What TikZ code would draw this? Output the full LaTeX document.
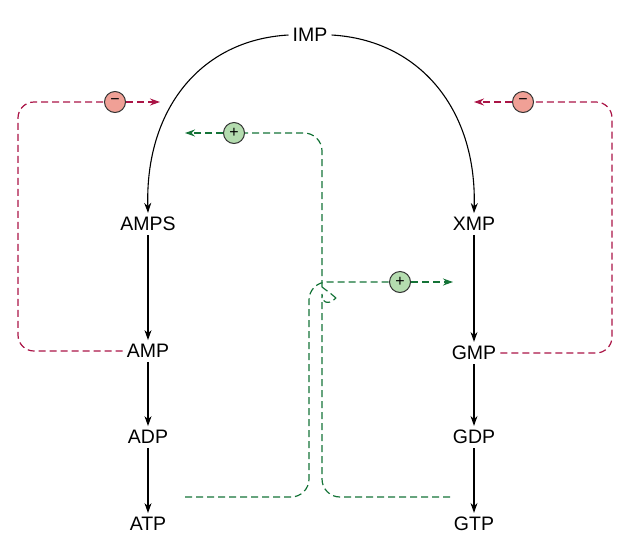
\documentclass[tikz,border=0pt]{standalone}
\usepackage{fontspec}
\setmainfont{Liberation Sans}
\usetikzlibrary{arrows.meta}
\definecolor{rd}{RGB}{170,20,70}
\definecolor{gn}{RGB}{20,115,55}
\definecolor{rfill}{RGB}{240,160,150}
\definecolor{gfill}{RGB}{180,220,175}
\begin{document}
\begin{tikzpicture}[x=1pt,y=-1pt,
  lab/.style={font=\fontsize{19.5}{21}\selectfont, inner sep=4pt},
  blk/.style={-{Stealth[length=10pt,width=7pt]}, line width=1.1pt},
  red/.style={rd, dash pattern=on 7pt off 4pt, line width=1.2pt, rounded corners=16pt},
  grn/.style={gn, dash pattern=on 7pt off 4pt, line width=1.2pt, rounded corners=18pt},
  ta/.style={-{Stealth[length=10pt,width=7pt]}},
  sig/.style={circle, draw=black!80, line width=1pt, minimum size=21pt, inner sep=0pt, font=\fontsize{16}{16}\selectfont}]
\useasboundingbox (0,0) rectangle (631,555);
\node[lab] (imp) at (310,35) {IMP};
\node[lab] (amps) at (148,224) {AMPS};
\node[lab] (xmp) at (474,224) {XMP};
\node[lab] (amp) at (148,351) {AMP};
\node[lab] (gmp) at (474,353) {GMP};
\node[lab] (adp) at (148,437) {ADP};
\node[lab] (gdp) at (474,437) {GDP};
\node[lab] (atp) at (148,524) {ATP};
\node[lab] (gtp) at (474,524) {GTP};
\draw[blk] (imp.west) .. controls (200,40) and (145,110) .. (amps.north);
\draw[blk] (imp.east) .. controls (420,40) and (477,110) .. (xmp.north);
\draw[blk] (amps.south) -- (amp.north);
\draw[blk] (amp.south) -- (adp.north);
\draw[blk] (adp.south) -- (atp.north);
\draw[blk] (xmp.south) -- (gmp.north);
\draw[blk] (gmp.south) -- (gdp.north);
\draw[blk] (gdp.south) -- (gtp.north);
% red
\node[sig, fill=rfill] (m1) at (115,102) {\textminus};
\node[sig, fill=rfill] (m2) at (523,102) {\textminus};
\coordinate (r1) at (160,102);
\coordinate (r2) at (474,102);
\draw[red] (amp.west) -- (18,351) -- (18,102) -- (m1.west);
\draw[red, ta, rounded corners=0] (m1.east) -- (r1);
\draw[red] (gmp.east) -- (612,353) -- (612,102) -- (m2.east);
\draw[red, ta, rounded corners=0] (m2.west) -- (r2);
% green
\node[sig, fill=gfill] (p1) at (234,133) {+};
\node[sig, fill=gfill] (p2) at (400,282) {+};
\coordinate (g1) at (185,133);
\coordinate (g2) at (453,282);
\coordinate (a0) at (185,497);
\coordinate (b0) at (450,497);
\draw[grn] (a0) -- (309,497) -- (309,282) -- (p2.west);
\draw[grn, ta, rounded corners=0] (p2.east) -- (g2);
\draw[grn] (b0) -- (322,497) -- (322,312) .. controls (322,306) and (332,303) .. (336,298);
\draw[grn, rounded corners=0] (336,298) -- (330,293) -- (322,287);
\draw[grn] (322,287) -- (322,133) -- (p1.east);
\draw[grn, ta, rounded corners=0] (p1.west) -- (g1);
\end{tikzpicture}
\end{document}
